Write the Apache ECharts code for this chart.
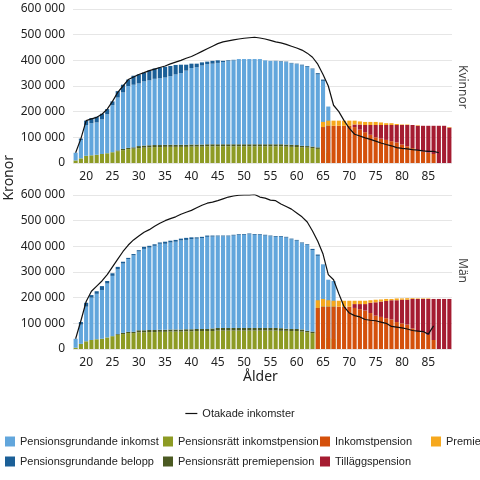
<!DOCTYPE html>
<html><head><meta charset="utf-8">
<script src="https://cdn.jsdelivr.net/npm/echarts@6/dist/echarts.min.js"></script>
<style>html,body{margin:0;padding:0;background:#fff}#c{width:480px;height:480px}</style>
</head><body><div id="c"></div>
<script>
// ages 18..89
var ages = [];
for (var a = 18; a <= 89; a++) ages.push(String(a));
var _ = null;

// Kvinnor (tkr)
var kTop = [40,95,165,175,180, 192,210,240,280,305, 325,340,345,352,360, 368,372,375,378,382, 383,383,387,387,392, 395,398,400,398,400, 402,405,405,405,405, 405,400,398,398,397, 395,390,387,383,378, 368,350,325,220,_, _,_,_,_,_, _,_,_,_,_, _,_,_,_,_, _,_,_,_,_, _,_];
var kLight = [40,90,148,155,158, 170,190,225,255,275, 300,305,310,318,322, 328,330,333,338,345, 350,360,370,373,380, 385,387,390,393,397, 400,405,405,405,405, 405,400,398,397,395, 393,388,385,380,375, 365,345,320,220,_, _,_,_,_,_, _,_,_,_,_, _,_,_,_,_, _,_,_,_,_, _,_];
var kOlive = [10,18,28,30,32, 35,38,42,46,50, 54,56,58,60,61, 62,62,63,63,63, 63,63,64,64,64, 65,65,65,65,65, 65,65,65,65,65, 65,65,65,65,65, 64,63,62,61,60, 58,55,50,40,_, _,_,_,_,_, _,_,_,_,_, _,_,_,_,_, _,_,_,_,_, _,_];
var kDOlive = [0,0,0,0,0, 0,0,0,3,5, 5,5,8,8,8, 8,8,8,8,8, 8,8,8,8,8, 8,8,8,8,8, 8,8,8,8,8, 8,8,8,8,8, 8,8,8,6,6, 6,6,4,0,_, _,_,_,_,_, _,_,_,_,_, _,_,_,_,_, _,_,_,_,_, _,_];
var kInk = [_,_,_,_,_, _,_,_,_,_, _,_,_,_,_, _,_,_,_,_, _,_,_,_,_, _,_,_,_,_, _,_,_,_,_, _,_,_,_,_, _,_,_,_,_, _,_,140,145,145, 145,145,145,140,130, 120,110,100,95,90, 85,80,72,65,58, 50,45,40,35,0, 0,0];
var kTill = [_,_,_,_,_, _,_,_,_,_, _,_,_,_,_, _,_,_,_,_, _,_,_,_,_, _,_,_,_,_, _,_,_,_,_, _,_,_,_,_, _,_,_,_,_, _,_,140,145,145, 145,145,145,150,150, 148,148,148,148,148, 148,148,148,148,148, 145,145,145,145,145, 145,138];
var kPrem = [_,_,_,_,_, _,_,_,_,_, _,_,_,_,_, _,_,_,_,_, _,_,_,_,_, _,_,_,_,_, _,_,_,_,_, _,_,_,_,_, _,_,_,_,_, _,_,160,165,165, 165,165,165,165,162, 160,160,160,158,155, 155,152,150,150,148, 147,145,145,145,145, 145,140];
var kLine = [40,95,165,172,178, 190,210,240,275,300, 325,335,345,352,360, 366,372,378,386,393, 400,408,415,425,435, 445,455,465,472,476, 480,483,486,488,490, 487,483,478,472,468, 462,455,448,440,428, 412,385,345,300,225, 200,165,135,112,105, 98,92,85,78,72, 67,60,57,55,52, 50,47,45,45,40, _,_];

// Män
var mTop = [40,105,180,210,225, 245,265,295,320,340, 355,370,385,398,402, 408,415,418,422,425, 430,433,435,435,437, 442,442,442,442,442, 445,447,448,450,448, 447,445,442,440,440, 437,430,425,415,408, 390,368,330,270,265, _,_,_,_,_, _,_,_,_,_, _,_,_,_,_, _,_,_,_,_, _,_];
var mLight = [40,95,165,200,215, 230,255,285,310,333, 350,365,380,390,395, 402,410,410,415,418, 423,425,428,430,432, 437,438,439,439,439, 442,444,445,447,445, 444,442,439,437,437, 434,427,422,412,405, 385,363,330,270,265, _,_,_,_,_, _,_,_,_,_, _,_,_,_,_, _,_,_,_,_, _,_];
var mOlive = [5,20,30,35,38, 40,45,50,55,58, 62,62,65,65,66, 66,67,67,68,68, 68,69,69,70,70, 70,70,72,72,72, 72,72,72,72,72, 72,72,72,72,71, 71,70,70,68,65, 62,60,55,45,40, _,_,_,_,_, _,_,_,_,_, _,_,_,_,_, _,_,_,_,_, _,_];
var mDOlive = [0,0,0,0,0, 0,0,0,3,5, 5,5,8,8,8, 8,8,8,8,8, 8,8,8,8,8, 8,10,10,10,10, 10,10,10,10,10, 10,10,10,10,10, 8,8,8,8,6, 6,6,4,0,0, _,_,_,_,_, _,_,_,_,_, _,_,_,_,_, _,_,_,_,_, _,_];
var mInk = [_,_,_,_,_, _,_,_,_,_, _,_,_,_,_, _,_,_,_,_, _,_,_,_,_, _,_,_,_,_, _,_,_,_,_, _,_,_,_,_, _,_,_,_,_, _,160,165,165,165, 165,165,165,160,155, 150,140,130,125,120, 115,105,100,95,80, 70,65,55,35,0, 0,0];
var mTill = [_,_,_,_,_, _,_,_,_,_, _,_,_,_,_, _,_,_,_,_, _,_,_,_,_, _,_,_,_,_, _,_,_,_,_, _,_,_,_,_, _,_,_,_,_, _,160,165,165,165, 165,165,165,175,175, 175,180,182,185,187, 190,190,192,192,195, 195,195,195,195,195, 195,195];
var mPrem = [_,_,_,_,_, _,_,_,_,_, _,_,_,_,_, _,_,_,_,_, _,_,_,_,_, _,_,_,_,_, _,_,_,_,_, _,_,_,_,_, _,_,_,_,_, _,190,195,190,188, 188,188,188,188,188, 188,190,192,193,195, 195,197,197,198,198, 197,197,197,195,195, 195,195];
var mLine = [40,110,185,225,245, 265,290,320,350,380, 405,425,440,455,465, 478,490,500,508,515, 525,533,540,550,560, 568,572,578,585,592, 596,599,600,600,602, 592,588,580,578,565, 555,545,530,515,495, 460,420,370,290,270, 215,165,140,130,125, 115,112,110,105,100, 88,85,82,78,72, 70,68,58,90,_, _,_];

var yTicks = [0, 100000, 200000, 300000, 400000, 500000, 600000];

function diff(a, b) { return a.map(function (v, i) { return v == null ? null : Math.max(0, v - (b[i] || 0)) * 1000; }); }
function k(a) { return a.map(function (v) { return v == null ? null : v * 1000; }); }
function sum(a, b) { return a.map(function (v, i) { return v == null ? null : v + (b[i] || 0); }); }

var C = {pgi:'#62a6dc', pgb:'#1b5f97', pri:'#8d9b24', prp:'#4b5a22', ink:'#d4500b', prem:'#f6a81d', till:'#a51c31'};
var fmt = function (v) { return String(v).replace(/\B(?=(\d{3})+(?!\d))/g, ' '); };
var font = 'Noto Sans';

function bars(i, top, light, olive, dolive, ink, till, prem, line) {
  var s = 'inc' + i, p = 'pen' + i;
  var base = {type:'bar', xAxisIndex:i, yAxisIndex:i, barCategoryGap:'22%', barGap:'-100%'};
  return [
    Object.assign({name:'Pensionsrätt inkomstpension', stack:s, data:k(olive), itemStyle:{color:C.pri}}, base),
    Object.assign({name:'Pensionsrätt premiepension', stack:s, data:k(dolive), itemStyle:{color:C.prp}}, base),
    Object.assign({name:'Pensionsgrundande inkomst', stack:s, data:diff(light, sum(olive, dolive)), itemStyle:{color:C.pgi}}, base),
    Object.assign({name:'Pensionsgrundande belopp', stack:s, data:diff(top, light), itemStyle:{color:C.pgb}}, base),
    Object.assign({name:'Inkomstpension', stack:p, data:k(ink), itemStyle:{color:C.ink}}, base),
    Object.assign({name:'Tilläggspension', stack:p, data:diff(till, ink), itemStyle:{color:C.till}}, base),
    Object.assign({name:'Premiepension', stack:p, data:diff(prem, till), itemStyle:{color:C.prem}}, base),
    {name:'Otakade inkomster', type:'line', xAxisIndex:i, yAxisIndex:i, data:k(line), symbol:'none', z:5,
     lineStyle:{color:'#111', width:1.2}, itemStyle:{color:'#111'}}
  ];
}

function xAxis(i) {
  return {type:'category', gridIndex:i, data:ages, axisTick:{show:false}, axisLine:{show:false},
    axisLabel:{interval:function (idx, v) { return +v % 5 === 0; }, color:'#222', fontSize:12, fontFamily:font, margin:8}};
}
function yAxis(i) {
  return {type:'value', gridIndex:i, min:0, max:600000, interval:100000,
    axisLabel:{formatter:fmt, color:'#222', fontSize:12, fontFamily:font},
    splitLine:{lineStyle:{color:'#e6e6e6'}}};
}
var legTxt = {fontSize:11, fontFamily:'Liberation Sans', color:'#222'};
function leg(x, names) {
  return {left:x, top:436, orient:'vertical', itemGap:9, itemWidth:10, itemHeight:10, icon:'rect', padding:[0,0,0,0], textStyle:legTxt, data:names};
}

var chart = echarts.init(document.getElementById('c'));
chart.setOption({
  animation:false,
  grid:[{left:73, right:28, top:9, height:154}, {left:73, right:28, top:195, height:154}],
  xAxis:[xAxis(0), xAxis(1)],
  yAxis:[yAxis(0), yAxis(1)],
  legend:[
    {top:403, left:'center', textStyle:legTxt, itemWidth:12, data:[{name:'Otakade inkomster', icon:'path://M0,0H10V1H0Z'}]},
    leg(5, ['Pensionsgrundande inkomst', 'Pensionsgrundande belopp']),
    leg(163, ['Pensionsrätt inkomstpension', 'Pensionsrätt premiepension']),
    leg(320, ['Inkomstpension', 'Tilläggspension']),
    leg(431, ['Premiepension'])
  ],
  graphic:[
    {type:'text', left:2, top:155, rotation:Math.PI/2, style:{text:'Kronor', fontSize:14, fontFamily:font, fill:'#222'}},
    {type:'text', left:243, top:370, style:{text:'Ålder', fontSize:14, fontFamily:font, fill:'#222'}},
    {type:'text', left:456, top:65, rotation:-Math.PI/2, style:{text:'Kvinnor', fontSize:12, fontFamily:font, fill:'#444'}},
    {type:'text', left:456, top:258, rotation:-Math.PI/2, style:{text:'Män', fontSize:12, fontFamily:font, fill:'#444'}}
  ],
  series: bars(0, kTop, kLight, kOlive, kDOlive, kInk, kTill, kPrem, kLine)
    .concat(bars(1, mTop, mLight, mOlive, mDOlive, mInk, mTill, mPrem, mLine))
});
</script></body></html>
